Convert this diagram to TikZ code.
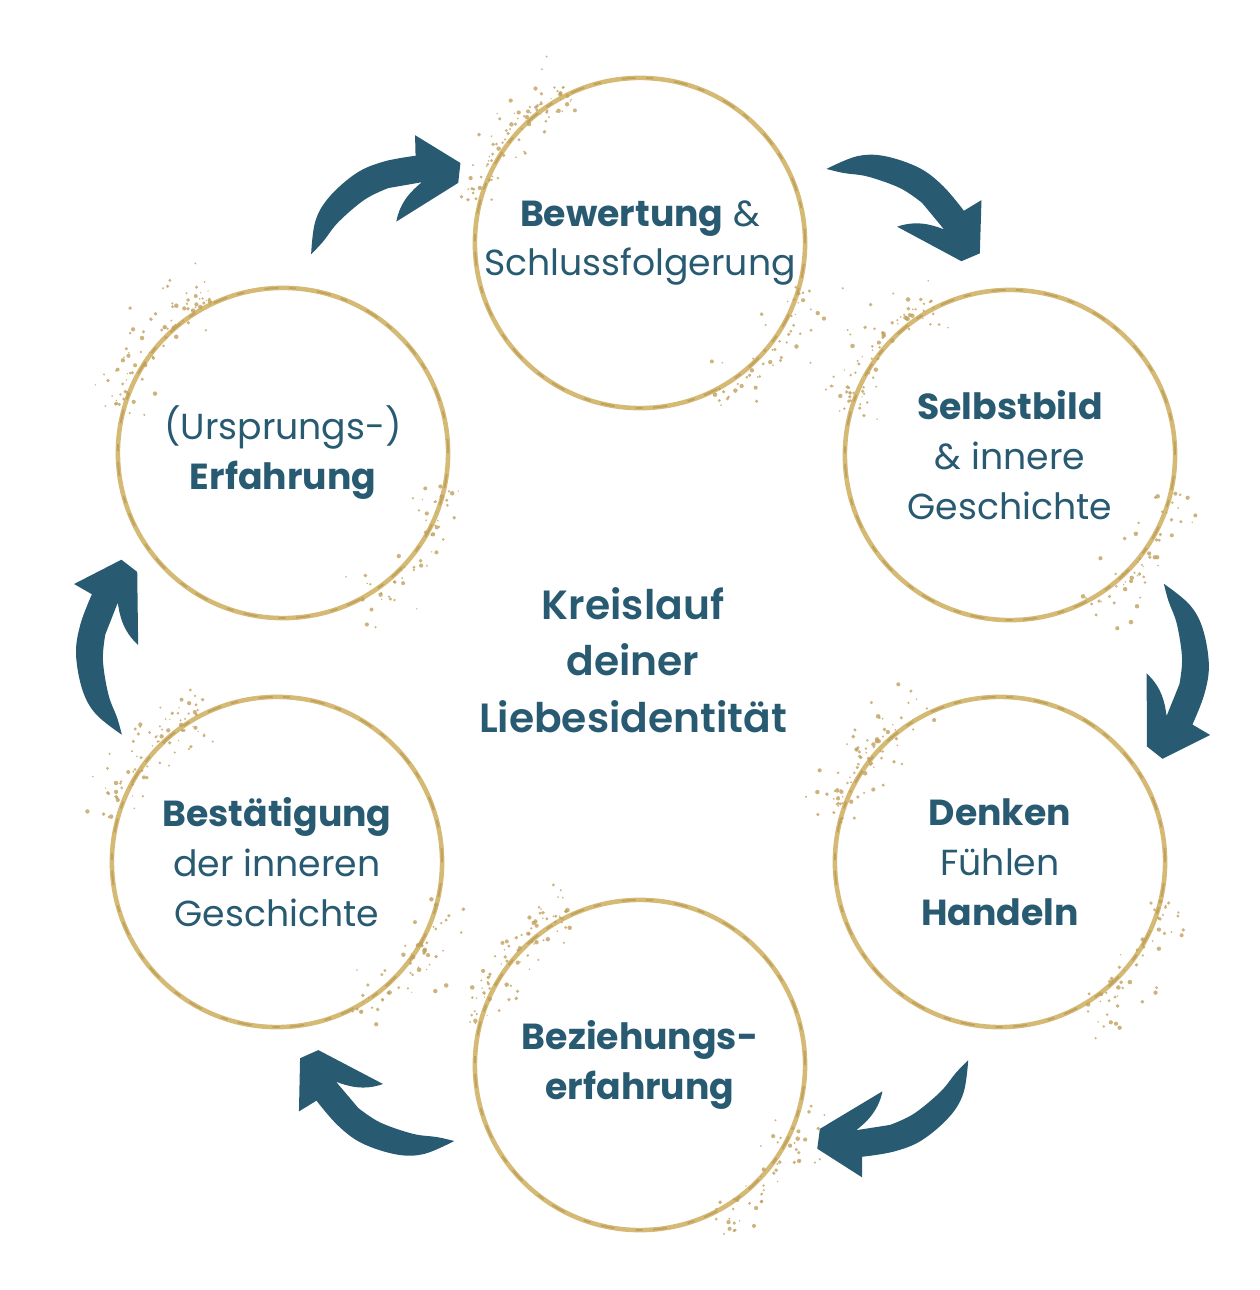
\documentclass[tikz,border=0pt]{standalone}
\usepackage{fontspec}
\setmainfont{Poppins}
\newfontfamily\semifont{Poppins SemiBold}

\definecolor{loopblue}{RGB}{40,90,113}
\definecolor{ringgold}{RGB}{212,186,116}
\definecolor{speckgold}{RGB}{192,160,92}

\tikzset{
  cyclearrow/.style={fill=loopblue},
  speck/.style={fill=speckgold, fill opacity=.8},
  ringtex/.style={postaction={draw=speckgold, line width=.5pt, dash pattern=on 4pt off 6pt on 2pt off 3pt}}
}

\begin{document}
\begin{tikzpicture}[x=0.01cm, y=0.01cm]
  \useasboundingbox (-640,-635) rectangle (620,655);

  \begin{scope}[every node/.style={circle, draw=ringgold, line width=1.3pt, ringtex,
      minimum size=3.3cm, inner sep=0pt, align=center, text=loopblue,
      font=\fontsize{10.3}{14.2}\selectfont}]
    \node (bewertung)    at (0,412)     {\textbf{Bewertung} \&\\Schlussfolgerung};
    \node (selbstbild)   at (370,200)   {\textbf{Selbstbild}\\\& innere\\Geschichte};
    \node (denken)       at (360,-207)  {\textbf{Denken}\\Fühlen\\\textbf{Handeln}};
    \node (beziehung)    at (0,-410)    {\textbf{Beziehungs-}\\\textbf{erfahrung}};
    \node (bestaetigung) at (-363,-207) {\textbf{Bestätigung}\\der inneren\\Geschichte};
    \node (erfahrung)    at (-357,202)  {(Ursprungs-)\\\textbf{Erfahrung}};
  \end{scope}

  \node[align=center, text=loopblue, font=\fontsize{11.6}{16}\semifont]
    (kreislauf) at (-7,-5) {Kreislauf\\deiner\\Liebesidentität};

  % gold dust
  \pgfmathsetseed{42}
  \foreach \n in {bewertung, selbstbild, denken, beziehung, bestaetigung, erfahrung} {
    \foreach \side/\k in {140/85,-38/55} {
      \foreach \i in {1,...,\k} {
        \pgfmathsetmacro\t{\side+26*rand}
        \pgfmathsetmacro\r{172+40*rand*abs(rand)}
        \pgfmathsetmacro\s{.7+1.6*rnd}
        \fill[speck] (\n.center) ++(\t:\r) circle (\s);
      }
    }
  }

  % arrows
  \foreach \from/\to in {erfahrung/bewertung, bewertung/selbstbild, selbstbild/denken,
      denken/beziehung, beziehung/bestaetigung, bestaetigung/erfahrung} {
    \pgfmathanglebetweenpoints{\pgfpointanchor{\from}{center}}{\pgfpointanchor{\to}{center}}
    \let\turn\pgfmathresult
    \begin{scope}[shift={(\from.center)}, rotate=\turn]
      \fill[cyclearrow]
        plot[smooth, tension=.6] coordinates {(125,157) (145,183) (169,197) (205,204) (235,200) (265,189)}
        -- (275,207) -- (300,160) -- (288,144) -- (215,142)
        .. controls (229,158) and (245,161) .. (257,163)
        -- plot[smooth, tension=.6] coordinates {(225,175) (199,177) (165,171) (142,162) (125,157)}
        -- cycle;
    \end{scope}
  }
\end{tikzpicture}
\end{document}
